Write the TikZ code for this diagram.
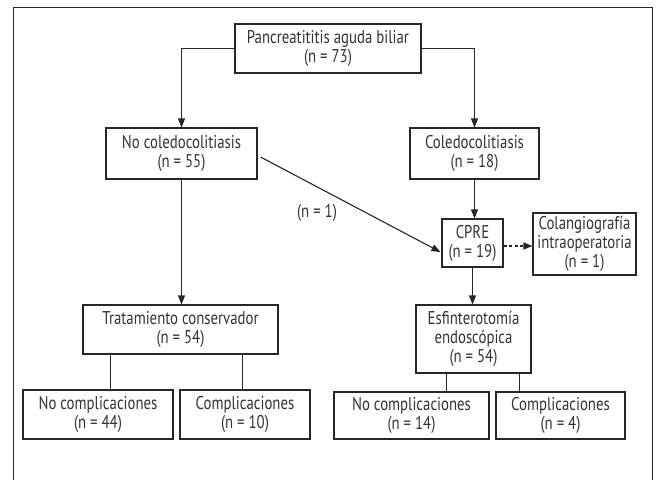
\documentclass[tikz,border=0pt]{standalone}
\usepackage{fontspec}
\setmainfont[FakeStretch=0.80]{PT Sans}
\usetikzlibrary{arrows.meta,calc}
\definecolor{ink}{HTML}{262626}
\definecolor{txt}{HTML}{333333}
\tikzset{
  box/.style={draw=ink, line width=1.1pt, rectangle, inner sep=0pt, align=center,
    text=txt, font=\fontsize{18.5}{19}\selectfont},
  arr/.style={draw=ink, line width=1.1pt, -{Triangle[length=9pt,width=7pt]}},
  plain/.style={draw=ink, line width=1.1pt},
  lbl/.style={text=txt, font=\fontsize{18.5}{19}\selectfont, inner sep=0pt}
}
\begin{document}
\begin{tikzpicture}[x=1pt,y=-1pt]
\useasboundingbox (0,0) rectangle (657,480);
\draw[draw=ink, line width=1pt] (13,481) -- (13,7) -- (652,7) -- (652,481);

\node[box, minimum width=186pt, minimum height=49pt] (top) at (328,48.5) {Pancreatititis aguda biliar\\(n = 73)};
\node[box, minimum width=151pt, minimum height=51pt] (nocol) at (181.5,153.5) {No coledocolitiasis\\(n = 55)};
\node[box, minimum width=129pt, minimum height=51pt] (col) at (474.5,153.5) {Coledocolitiasis\\(n = 18)};
\node[box, minimum width=61pt, minimum height=48pt] (cpre) at (472.5,243) {CPRE\\(n = 19)};
\node[box, minimum width=103pt, minimum height=62pt] (colang) at (584.5,244) {Colangiografía\\intraoperatoria\\(n = 1)};
\node[box, minimum width=195pt, minimum height=49pt] (trat) at (180.5,329.5) {Tratamiento conservador\\(n = 54)};
\node[box, minimum width=115pt, minimum height=68pt] (esf) at (473.5,339) {Esfinterotomía\\endoscópica\\(n = 54)};
\node[box, minimum width=150pt, minimum height=49pt] (nc1) at (98,414.5) {No complicaciones\\(n = 44)};
\node[box, minimum width=130pt, minimum height=49pt] (c1) at (245,414.5) {Complicaciones\\(n = 10)};
\node[box, minimum width=155pt, minimum height=47pt] (nc2) at (411.5,415.5) {No complicaciones\\(n = 14)};
\node[box, minimum width=129pt, minimum height=47pt] (c2) at (560.5,415.5) {Complicaciones\\(n = 4)};
\node[lbl] (n1) at (317,213) {(n = 1)};

\draw[arr] (top.west) -| (nocol.north);
\draw[arr] (top.east) -| (col.north);
\draw[arr] (col.south) -- (col.south |- cpre.north);
\draw[arr] (nocol.south) -- (nocol.south |- trat.north);
\draw[arr] (cpre.south) -- (cpre.south |- esf.north);
\coordinate (d1) at ($(nocol.east)+(3,3.5)$);
\coordinate (d2) at ($(cpre.west)+(-1,9)$);
\draw[arr] (d1) -- (d2);
\coordinate (e1) at ($(cpre.east)+(0,3)$);
\draw[arr, dash pattern=on 3pt off 2.5pt] (e1) -- (e1 -| colang.west);

\coordinate (t1) at ($(trat.south west)+(28,0)$);
\coordinate (t2) at ($(trat.south east)+(-36,0)$);
\draw[plain] (t1) -- (t1 |- nc1.north);
\draw[plain] (t2) -- (t2 |- c1.north);
\coordinate (s1) at ($(esf.south west)+(31,0)$);
\coordinate (s2) at ($(esf.south east)+(-12,0)$);
\draw[plain] (s1) -- (s1 |- nc2.north);
\draw[plain] (s2) -- (s2 |- c2.north);
\end{tikzpicture}
\end{document}
